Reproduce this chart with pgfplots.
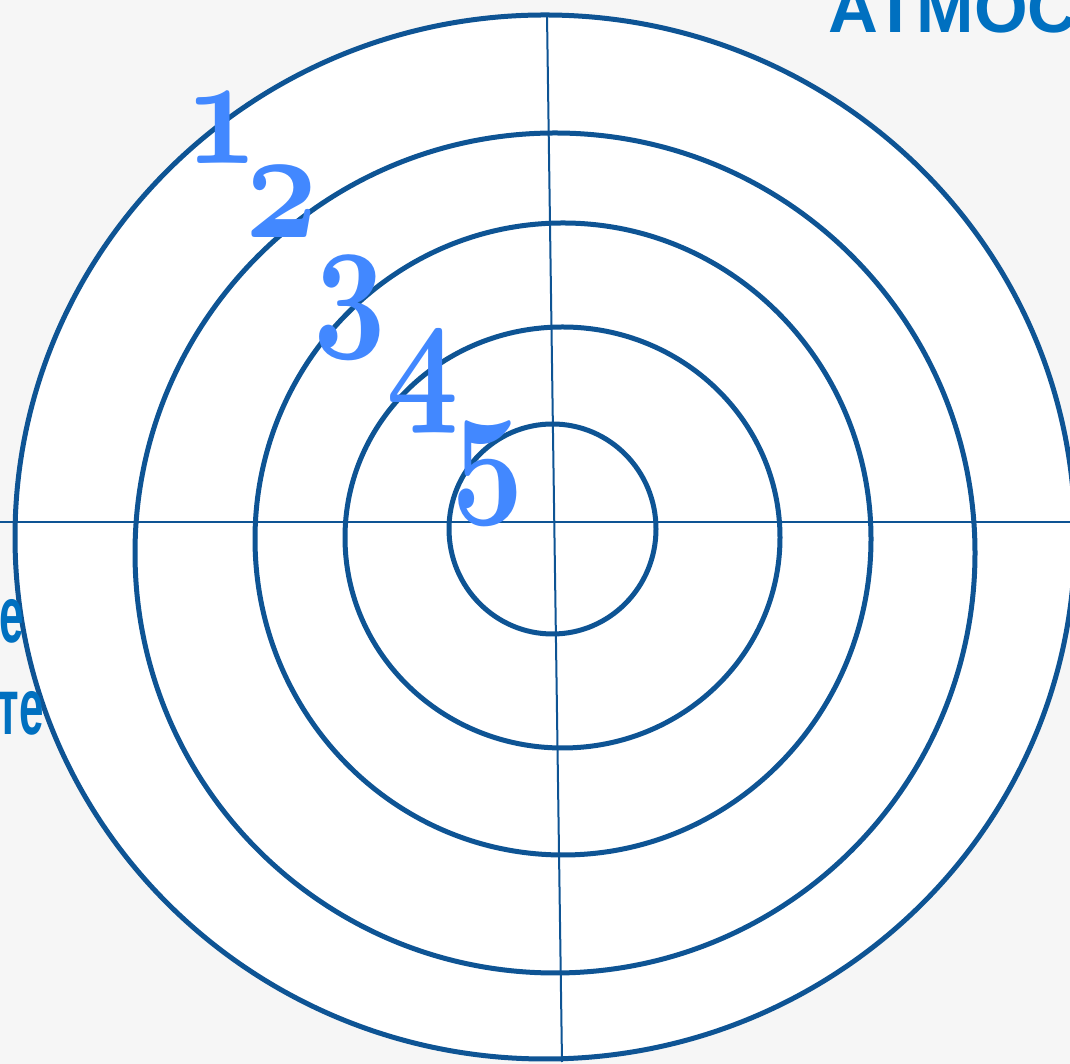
\RequirePackage{fix-cm}
\documentclass[border=0pt]{standalone}
\usepackage{pgfplots}
\pgfplotsset{compat=1.18}
\usepackage{fontspec}
\newfontfamily\lsans{Liberation Sans}
\definecolor{ring}{RGB}{14,84,148}
\definecolor{numc}{RGB}{66,136,255}
\definecolor{txtc}{RGB}{0,112,192}
\definecolor{bgc}{RGB}{246,246,246}
\newcommand{\osn}[1]{{\fontsize{158}{158}\usefont{OML}{cmm}{b}{it}#1}}
\begin{document}
\begin{tikzpicture}
\begin{axis}[
  width=1070pt, height=1064pt, scale only axis,
  xmin=0, xmax=1070, ymin=0, ymax=1064,
  axis lines=none, clip=true,
  axis background/.style={fill=bgc},
]
% white target area
\fill[white] (axis cs:545,527) ellipse [x radius=530, y radius=522];
% cross lines
\addplot[ring, line width=2pt, no marks] coordinates {(0,542) (1070,542)};
\addplot[ring, line width=2pt, no marks] coordinates {(547,1049) (562,2)};
% rings
\draw[ring, line width=5pt] (axis cs:545,527) ellipse [x radius=530, y radius=522];
\draw[ring, line width=5pt] (axis cs:555,511) ellipse [x radius=420, y radius=420];
\draw[ring, line width=5pt] (axis cs:563,525) ellipse [x radius=308, y radius=316];
\draw[ring, line width=5pt] (axis cs:562.5,526.5) ellipse [x radius=217.5, y radius=210.5];
\draw[ring, line width=5pt] (axis cs:552.5,535) ellipse [x radius=103.5, y radius=105];
% numbers
\node[numc, anchor=base west, inner sep=0, xscale=0.8] at (axis cs:185,900) {\osn{1}};
\node[numc, anchor=base west, inner sep=0, xscale=0.8] at (axis cs:245,826) {\osn{2}};
\node[numc, anchor=base west, inner sep=0, xscale=0.8] at (axis cs:313,736) {\osn{3}};
\node[numc, anchor=base west, inner sep=0, xscale=0.8] at (axis cs:386,661) {\osn{4}};
\node[numc, anchor=base west, inner sep=0, xscale=0.8] at (axis cs:451,570) {\osn{5}};
% side texts (cut off at the edges, as in the reference)
\node[txtc, anchor=base west, inner sep=0] at (axis cs:828,1031) {\lsans\bfseries\fontsize{69}{69}\selectfont АТМОСФЕРА};
\node[txtc, anchor=base east, inner sep=0, xscale=0.55] at (axis cs:24,421) {\lsans\bfseries\fontsize{80}{80}\selectfont е};
\node[txtc, anchor=base east, inner sep=0, xscale=0.55] at (axis cs:44,329) {\lsans\bfseries\fontsize{80}{80}\selectfont те};
\end{axis}
\pgfresetboundingbox
\useasboundingbox (0,0) rectangle (1070pt,1064pt);
\end{tikzpicture}
\end{document}
